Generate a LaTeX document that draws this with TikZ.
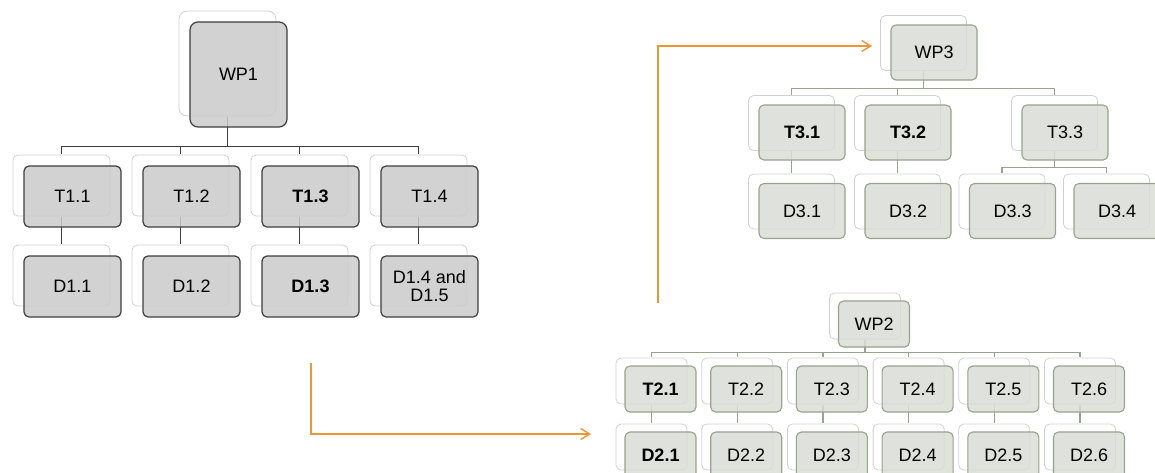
\documentclass[tikz,border=0pt]{standalone}
\usepackage{fontspec}
\setmainfont{Liberation Sans}
\usetikzlibrary{positioning, shadows, backgrounds, arrows.meta}

\definecolor{boxgrey}{RGB}{203,203,203}
\definecolor{edgegrey}{RGB}{62,62,62}
\definecolor{boxgreen}{RGB}{218,221,214}
\definecolor{edgegreen}{RGB}{152,162,140}
\definecolor{flowline}{RGB}{238,150,52}

\begin{document}
\begin{tikzpicture}
	[on grid, node distance=119pt, font=\fontsize{18}{18}\selectfont,
	 back/.style 2 args={copy shadow={shadow xshift=#1, shadow yshift=#2, opacity=1,
	   fill=white, draw=black!18, line width=0.8pt}},
	 wp/.style={rounded corners=5pt, fill opacity=0.85, text opacity=1, align=center, inner sep=1pt},
	 greybox/.style={wp, draw=edgegrey, fill=boxgrey, line width=1.2pt, back={-11pt}{11pt},
	   minimum width=97pt, minimum height=61pt},
	 greenbox/.style 2 args={wp, draw=edgegreen, fill=boxgreen, line width=1.1pt, back={#1}{#2}},
	 wpthree/.style={greenbox={-10.5pt}{9.5pt}, minimum width=86pt, minimum height=55pt},
	 wptwo/.style={greenbox={-9pt}{8pt}, minimum width=71pt, minimum height=46pt},
	 link/.style={line width=1.3pt},
	 flow/.style={draw=flowline, line width=1.4pt, ->, >={Straight Barb[length=9pt,width=11pt]}}]
   \useasboundingbox (0,0) rectangle (1155pt,-472pt);

   % WP1
   \node[greybox, minimum height=105pt, rounded corners=8pt] (wp_1) at (238.5pt,-74.5pt) {WP1};
   \node[greybox] (t_11) at (72.5pt,-196.5pt) {T1.1};
   \node[greybox] (t_12) [right=of t_11] {T1.2};
   \node[greybox] (t_13) [right=of t_12] {\textbf{T1.3}};
   \node[greybox] (t_14) [right=of t_13] {T1.4};
   \node[greybox] (d_11) [below=90pt of t_11] {D1.1};
   \node[greybox] (d_12) [below=90pt of t_12] {D1.2};
   \node[greybox] (d_13) [below=90pt of t_13] {\textbf{D1.3}};
   \node[greybox] (d_14) [below=90pt of t_14] {D1.4 and\\D1.5};

   % WP3
   \node[wpthree] (wp_3) at (934pt,-52.5pt) {WP3};
   \node[wpthree] (t_31) at (802pt,-132.5pt) {\textbf{T3.1}};
   \node[wpthree] (t_32) [right=106pt of t_31] {\textbf{T3.2}};
   \node[wpthree] (t_33) [right=157pt of t_32] {T3.3};
   \node[wpthree] (d_31) [below=78.5pt of t_31] {D3.1};
   \node[wpthree] (d_32) [below=78.5pt of t_32] {D3.2};
   \node[wpthree] (d_33) [below left=78.5pt and 52.5pt of t_33] {D3.3};
   \node[wpthree] (d_34) [below right=78.5pt and 52pt of t_33] {D3.4};

   % WP2
   \node[wptwo] (wp_2) at (874pt,-324pt) {WP2};
   \node[wptwo] (t_21) at (660.5pt,-389pt) {\textbf{T2.1}};
   \node[wptwo] (t_22) [right=85.7pt of t_21] {T2.2};
   \node[wptwo] (t_23) [right=85.7pt of t_22] {T2.3};
   \node[wptwo] (t_24) [right=85.7pt of t_23] {T2.4};
   \node[wptwo] (t_25) [right=85.7pt of t_24] {T2.5};
   \node[wptwo] (t_26) [right=85.7pt of t_25] {T2.6};
   \node[wptwo] (d_21) [below=66pt of t_21] {\textbf{D2.1}};
   \node[wptwo] (d_22) [below=66pt of t_22] {D2.2};
   \node[wptwo] (d_23) [below=66pt of t_23] {D2.3};
   \node[wptwo] (d_24) [below=66pt of t_24] {D2.4};
   \node[wptwo] (d_25) [below=66pt of t_25] {D2.5};
   \node[wptwo] (d_26) [below=66pt of t_26] {D2.6};

   % tree lines run between the back cards
   \begin{pgfonlayer}{background}
   \begin{scope}[transform canvas={shift={(-11pt,11pt)}}, edgegrey]
     \draw[link] (wp_1.south) -- ++(0,-30pt) -| (t_11.north);
     \draw[link] (wp_1.south) -- ++(0,-30pt) -| (t_12.north);
     \draw[link] (wp_1.south) -- ++(0,-30pt) -| (t_13.north);
     \draw[link] (wp_1.south) -- ++(0,-30pt) -| (t_14.north);
     \draw[link] (t_11.south) -- (d_11.north);
     \draw[link] (t_12.south) -- (d_12.north);
     \draw[link] (t_13.south) -- (d_13.north);
     \draw[link] (t_14.south) -- (d_14.north);
   \end{scope}
   \begin{scope}[transform canvas={shift={(-10.5pt,9.5pt)}}, edgegreen]
     \draw[link] (wp_3.south) -- ++(0,-17.5pt) -| (t_31.north);
     \draw[link] (wp_3.south) -- ++(0,-17.5pt) -| (t_32.north);
     \draw[link] (wp_3.south) -- ++(0,-17.5pt) -| (t_33.north);
     \draw[link] (t_31.south) -- (d_31.north);
     \draw[link] (t_32.south) -- (d_32.north);
     \draw[link] (t_33.south) -- ++(0,-16.5pt) -| (d_33.north);
     \draw[link] (t_33.south) -- ++(0,-16.5pt) -| (d_34.north);
   \end{scope}
   \begin{scope}[transform canvas={shift={(-9pt,8pt)}}, edgegreen]
     \draw[link] (wp_2.south) -- ++(0,-13pt) -| (t_21.north);
     \draw[link] (wp_2.south) -- ++(0,-13pt) -| (t_22.north);
     \draw[link] (wp_2.south) -- ++(0,-13pt) -| (t_23.north);
     \draw[link] (wp_2.south) -- ++(0,-13pt) -| (t_24.north);
     \draw[link] (wp_2.south) -- ++(0,-13pt) -| (t_25.north);
     \draw[link] (wp_2.south) -- ++(0,-13pt) -| (t_26.north);
     \draw[link] (t_21.south) -- (d_21.north);
     \draw[link] (t_22.south) -- (d_22.north);
     \draw[link] (t_23.south) -- (d_23.north);
     \draw[link] (t_24.south) -- (d_24.north);
     \draw[link] (t_25.south) -- (d_25.north);
     \draw[link] (t_26.south) -- (d_26.north);
   \end{scope}
   \end{pgfonlayer}

   % hand-over arrows
   \coordinate (go_1) at (311pt,-363pt);
   \coordinate (to_2) at (591pt,-434pt);
   \coordinate (go_2) at (658pt,-303pt);
   \coordinate (to_3) at (872pt,-46pt);
   \draw[flow] (go_1) |- (to_2);
   \draw[flow] (go_2) |- (to_3);
\end{tikzpicture}
\end{document}
